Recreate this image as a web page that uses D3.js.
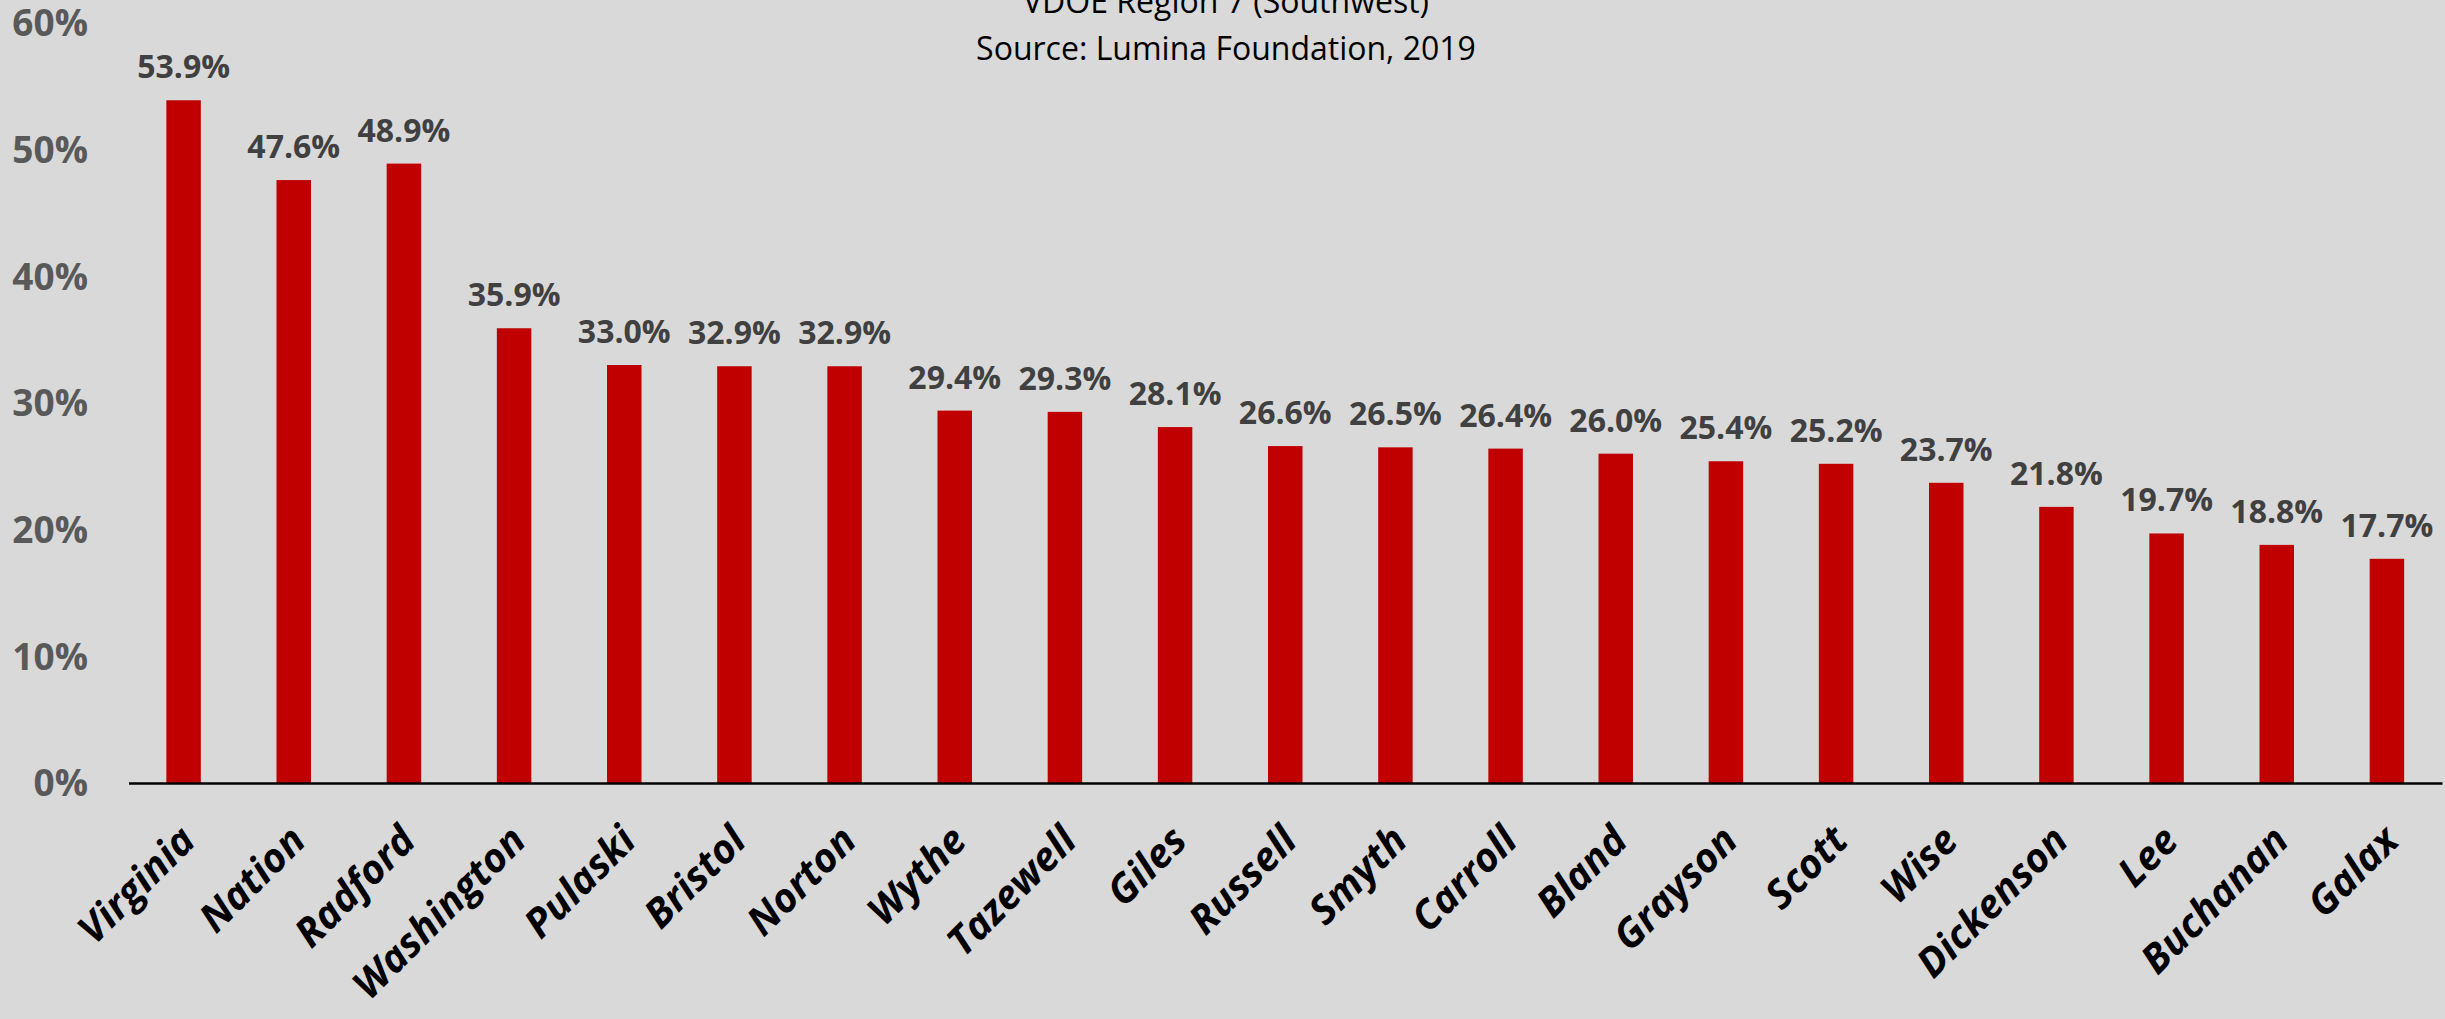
<!DOCTYPE html>
<html>
<head>
<meta charset="utf-8">
<script src="https://cdn.jsdelivr.net/npm/d3@7"></script>
<style>
  html, body { margin: 0; padding: 0; background: #d9d9d9; }
  svg { display: block; }
</style>
</head>
<body>
<script>
// chart data
const regions = ['Virginia', 'Nation', 'Radford', 'Washington', 'Pulaski', 'Bristol', 'Norton',
  'Wythe', 'Tazewell', 'Giles', 'Russell', 'Smyth', 'Carroll', 'Bland', 'Grayson', 'Scott',
  'Wise', 'Dickenson', 'Lee', 'Buchanan', 'Galax'];
const rates = [53.9, 47.6, 48.9, 35.9, 33.0, 32.9, 32.9, 29.4, 29.3, 28.1, 26.6, 26.5, 26.4,
  26.0, 25.4, 25.2, 23.7, 21.8, 19.7, 18.8, 17.7];
const yTicks = [0, 10, 20, 30, 40, 50, 60];
const titleLines = ['VDOE Region 7 (Southwest)', 'Source: Lumina Foundation, 2019'];

const data = regions.map((name, i) => ({ name, value: rates[i] }));

const W = 2445, H = 1019;
const font = '"Open Sans", "Noto Sans", sans-serif';

const svg = d3.select('body')
  .append('svg')
  .attr('width', W)
  .attr('height', H);

svg.append('rect')
  .attr('width', W)
  .attr('height', H)
  .attr('fill', '#d9d9d9');

const x = d3.scaleBand()
  .domain(regions)
  .range([128.5, 2442])
  .paddingInner(0.687)
  .paddingOuter(0.3435);

const y = d3.scaleLinear()
  .domain([0, 60])
  .range([783, 23]);

// title (top line is clipped by the page edge, as in the original)
svg.selectAll('.title')
  .data(titleLines)
  .enter()
  .append('text')
  .attr('class', 'title')
  .attr('x', 1226)
  .attr('y', (d, i) => 13 + i * 47)
  .attr('text-anchor', 'middle')
  .style('font-family', font)
  .style('font-size', '32px')
  .style('fill', '#000')
  .text(d => d);

// y axis labels, no line
const yAxis = d3.axisLeft(y)
  .tickValues(yTicks)
  .tickFormat(d => d + '%')
  .tickSize(0)
  .tickPadding(0);

const yg = svg.append('g')
  .attr('transform', 'translate(88,0)')
  .call(yAxis);
yg.select('.domain').remove();
yg.selectAll('text')
  .attr('dy', '0.35em')
  .style('font-family', font)
  .style('font-size', '37px')
  .style('font-weight', 'bold')
  .style('fill', '#595959');

// bars
svg.selectAll('.bar')
  .data(data)
  .enter()
  .append('rect')
  .attr('class', 'bar')
  .attr('x', d => x(d.name))
  .attr('y', d => y(d.value))
  .attr('width', x.bandwidth())
  .attr('height', d => y(0) - y(d.value))
  .attr('fill', '#c00000');

// value labels
svg.selectAll('.val')
  .data(data)
  .enter()
  .append('text')
  .attr('class', 'val')
  .attr('x', d => x(d.name) + x.bandwidth() / 2)
  .attr('y', d => y(d.value) - 22)
  .attr('text-anchor', 'middle')
  .style('font-family', font)
  .style('font-size', '32px')
  .style('font-weight', 'bold')
  .style('fill', '#404040')
  .text(d => d.value.toFixed(1) + '%');

// x axis
const xAxis = d3.axisBottom(x).tickSize(0).tickPadding(0);
const xg = svg.append('g')
  .attr('transform', `translate(0,${y(0)})`)
  .call(xAxis);
xg.select('.domain')
  .attr('stroke', '#000')
  .attr('stroke-width', 2.5);
xg.selectAll('.tick text')
  .attr('y', 0)
  .attr('dy', 0)
  .attr('text-anchor', 'end')
  .attr('transform', 'translate(14,60) rotate(-45)')
  .style('font-family', font)
  .style('font-size', '40px')
  .style('font-weight', 'bold')
  .style('font-style', 'italic')
  .style('fill', '#000');
</script>
</body>
</html>
